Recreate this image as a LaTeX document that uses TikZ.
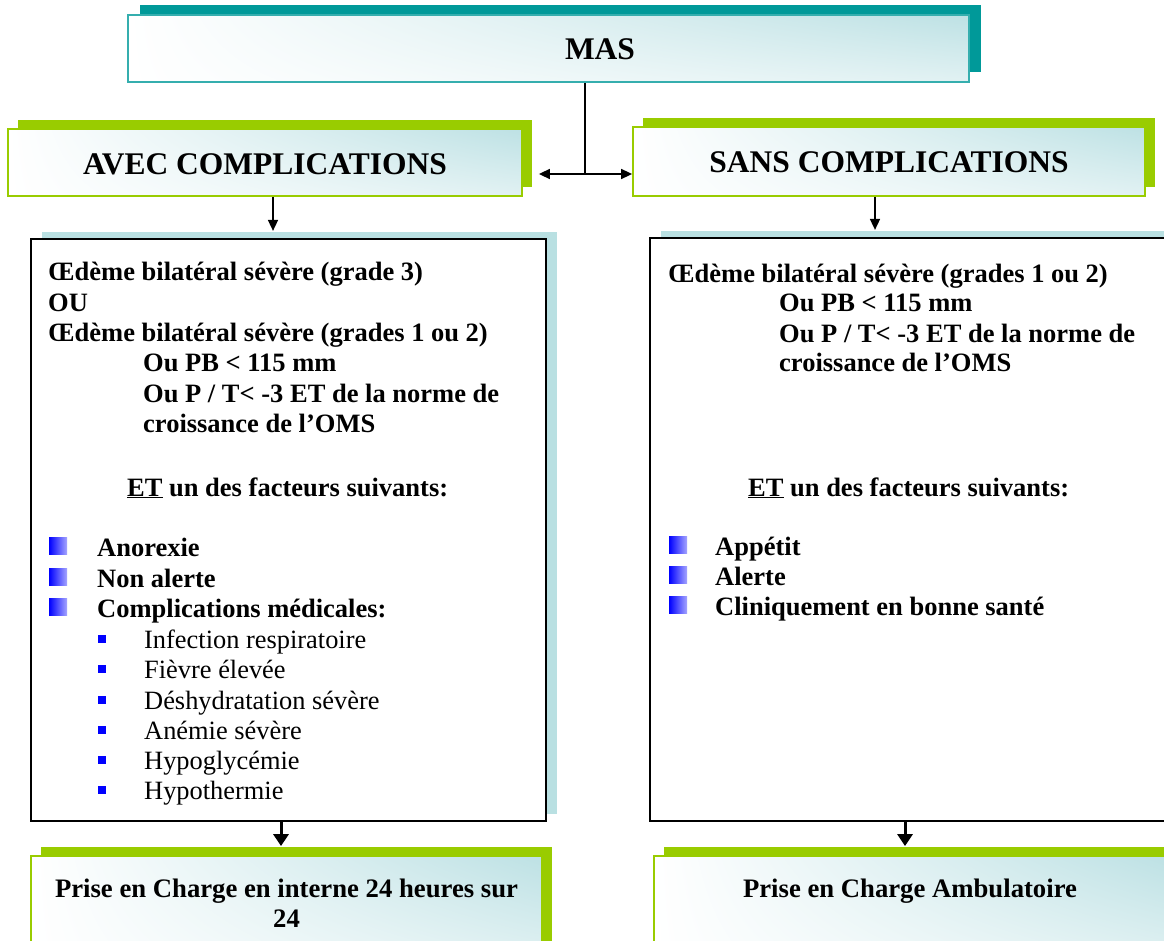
\documentclass[tikz,border=0pt]{standalone}
\usepackage{fontspec}
\setmainfont{Liberation Serif}
\usetikzlibrary{arrows.meta,shadows,shadings}

\definecolor{tealdark}{HTML}{009999}
\definecolor{tealline}{HTML}{35AEAE}
\definecolor{limeg}{HTML}{99CC00}
\definecolor{paleblue}{HTML}{B9E0E2}
\definecolor{glow}{HTML}{BDE1E4}
\definecolor{bulletblue}{HTML}{0000FF}

\tikzset{
  x=1pt, y=-1pt,
  glowfill/.style={upper left=white, upper right=glow, lower left=white, lower right=white!55!glow},
  headbox/.style={glowfill, draw=tealline, line width=1.8pt, inner sep=0pt,
    general shadow={fill=tealdark, shadow xshift=12pt, shadow yshift=10pt}},
  greenbox/.style={glowfill, draw=limeg, line width=1.8pt, inner sep=0pt,
    general shadow={fill=limeg, shadow xshift=10pt, shadow yshift=9pt}},
  panel/.style={fill=white, draw=black, line width=2.2pt, inner sep=0pt,
    general shadow={fill=paleblue, shadow xshift=11pt, shadow yshift=7pt}},
  headtxt/.style={font=\fontsize{31.5}{36}\selectfont\bfseries, inner sep=0pt},
  bodytxt/.style={font=\fontsize{26.5}{30}\selectfont\bfseries, anchor=base west, inner sep=0pt},
  subtxt/.style={font=\fontsize{26.4}{30}\selectfont, anchor=base west, inner sep=0pt},
  foottxt/.style={font=\fontsize{26.7}{30}\selectfont\bfseries, anchor=base, inner sep=0pt},
  thinarrow/.style={line width=1.6pt, -{Triangle[length=11pt,width=10pt]}},
  bothways/.style={line width=1.6pt, {Triangle[length=11pt,width=10pt]}-{Triangle[length=11pt,width=10pt]}},
  thickarrow/.style={line width=3pt, -{Triangle[length=12pt,width=15pt]}},
}

% big gradient square bullet sitting on a baseline
\newcommand{\bigbullet}[2]{\shade[left color=bulletblue, right color=bulletblue!35] (#1,#2-19) rectangle (#1+18,#2-2);}
% small plain square bullet sitting on a baseline
\newcommand{\smallbullet}[2]{\fill[bulletblue] (#1,#2-13) rectangle (#1+8,#2-5);}

\begin{document}
\begin{tikzpicture}
\useasboundingbox (0,0) rectangle (1164,941);
\clip (0,0) rectangle (1164,941);

% ---- boxes ----
\node[headbox, minimum width=841pt, minimum height=67pt] (mas) at (548.5,48.5) {};
\node[headtxt] (mastxt) at (600,49) {MAS};

\node[greenbox, minimum width=514pt, minimum height=67pt] (avec) at (265,162.5) {};
\node[headtxt] (avectxt) at (265,164) {AVEC COMPLICATIONS};

\node[greenbox, minimum width=512pt, minimum height=69pt] (sans) at (889,161.5) {};
\node[headtxt] (sanstxt) at (889,162) {SANS COMPLICATIONS};

\node[panel, minimum width=515pt, minimum height=582pt] (bigL) at (288.5,530) {};
\node[panel, minimum width=518pt, minimum height=583pt] (bigR) at (909,529.5) {};

\node[greenbox, minimum width=511pt, minimum height=104pt] (botL) at (286.5,908) {};
\node[greenbox, minimum width=512pt, minimum height=104pt] (botR) at (910,908) {};

% ---- connectors ----
\coordinate (jn) at (585,174);
\draw[line width=1.6pt] (mas.south -| jn) -- (jn);
\draw[bothways] ([xshift=16pt]avec.east |- jn) -- (sans.west |- jn);
\draw[thinarrow] ([xshift=8pt]avec.south) -- ([xshift=-15.5pt,yshift=7pt]bigL.north);
\draw[thinarrow] ([xshift=-14pt]sans.south) -- ([xshift=-34pt,yshift=7pt]bigR.north);
\draw[thickarrow] ([xshift=-7.5pt]bigL.south) -- ([xshift=-5.5pt,yshift=9pt]botL.north);
\draw[thickarrow] ([xshift=-4pt]bigR.south) -- ([xshift=-5pt,yshift=9pt]botR.north);

% ---- left panel text ----
\node[bodytxt] (l1) at (48,280) {Œdème bilatéral sévère (grade 3)};
\node[bodytxt] (l2) at (48,311) {OU};
\node[bodytxt] (l3) at (48,341) {Œdème bilatéral sévère (grades 1 ou 2)};
\node[bodytxt] (l4) at (143,371) {Ou PB < 115 mm};
\node[bodytxt] (l5) at (143,402) {Ou P / T< -3 ET de la norme de};
\node[bodytxt] (l6) at (143,432) {croissance de l’OMS};
\node[bodytxt] (l7) at (127,496) {\underline{ET} un des facteurs suivants:};

\bigbullet{49}{556}
\bigbullet{49}{587}
\bigbullet{49}{617}
\node[bodytxt] (la) at (97,556) {Anorexie};
\node[bodytxt] (lb) at (97,587) {Non alerte};
\node[bodytxt] (lc) at (97,617) {Complications médicales:};

\smallbullet{98}{648}
\smallbullet{98}{678}
\smallbullet{98}{709}
\smallbullet{98}{739}
\smallbullet{98}{769}
\smallbullet{98}{799}
\node[subtxt] (s1) at (144,648) {Infection respiratoire};
\node[subtxt] (s2) at (144,678) {Fièvre élevée};
\node[subtxt] (s3) at (144,709) {Déshydratation sévère};
\node[subtxt] (s4) at (144,739) {Anémie sévère};
\node[subtxt] (s5) at (144,769) {Hypoglycémie};
\node[subtxt] (s6) at (144,799) {Hypothermie};

% ---- right panel text ----
\node[bodytxt] (r1) at (668,283) {Œdème bilatéral sévère (grades 1 ou 2)};
\node[bodytxt] (r2) at (779,312) {Ou PB < 115 mm};
\node[bodytxt] (r3) at (779,342) {Ou P / T< -3 ET de la norme de};
\node[bodytxt] (r4) at (779,371) {croissance de l’OMS};
\node[bodytxt] (r5) at (748,496) {\underline{ET} un des facteurs suivants:};

\bigbullet{669}{555}
\bigbullet{669}{585}
\bigbullet{669}{615}
\node[bodytxt] (ra) at (715,555) {Appétit};
\node[bodytxt] (rb) at (715,585) {Alerte};
\node[bodytxt] (rc) at (715,615) {Cliniquement en bonne santé};

% ---- bottom texts ----
\node[foottxt] (f1) at (286.5,897) {Prise en Charge en interne 24 heures sur};
\node[foottxt] (f2) at (286.5,927) {24};
\node[foottxt] (f3) at (910,897) {Prise en Charge Ambulatoire};
\end{tikzpicture}
\end{document}
